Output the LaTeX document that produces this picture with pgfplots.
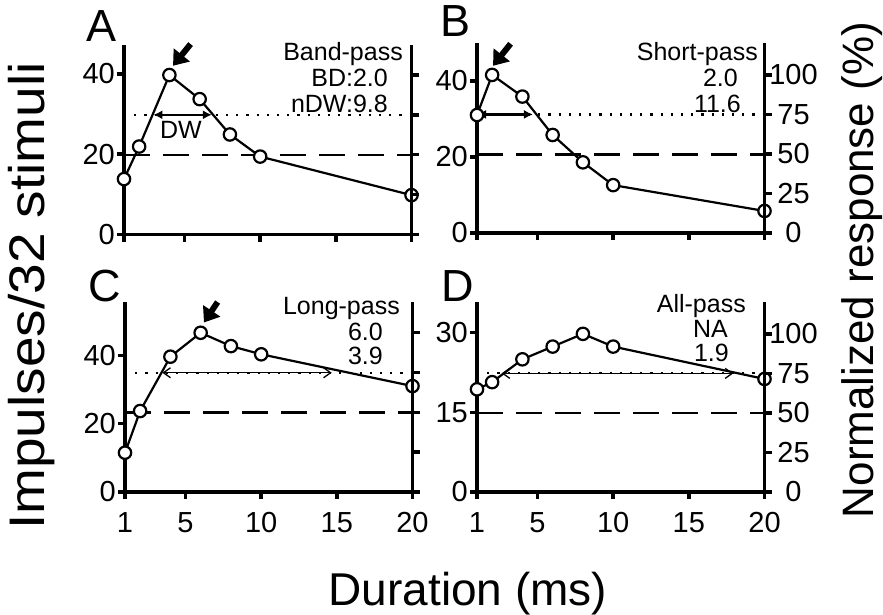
\documentclass[border=0pt]{standalone}
\usepackage{fontspec}
\setmainfont{Liberation Sans}
\usepackage{graphicx}
\usepackage{pgfplots}
\pgfplotsset{compat=1.18}
\usetikzlibrary{arrows.meta}
\newcommand\fs[1]{\fontsize{#1}{#1}\selectfont}
\tikzset{
  bigarrow/.style={line width=6pt, -{Triangle[length=14pt, width=20pt]}},
  dwthick/.style={line width=2.5pt, {Latex[length=9pt,width=9pt]}-{Latex[length=9pt,width=9pt]}},
  dwthin/.style={line width=1.3pt, {Straight Barb[length=7pt,width=10pt]}-{Straight Barb[length=7pt,width=10pt]}},
  dline/.style={line width=2.5pt, dash pattern=on 26pt off 13pt},
  oline/.style={line width=2.2pt, dash pattern=on 2.2pt off 8pt},
}
\pgfplotsset{
  /pgf/number format/assume math mode=true,
  panel/.style={
    scale only axis, width=287.5pt, height=190pt,
    xmin=1, xmax=20, ymin=0,
    anchor=south west, clip=false,
    axis line style={line width=3.4pt, -},
    tick style={line width=3.4pt, black},
    major tick length=7pt, tick align=outside,
    ticklabel style={font=\fs{29}, inner sep=2pt},
    xtick={1,5,10,15,20},
  },
  leftax/.style={panel, axis x line*=bottom, axis y line*=left},
  rightax/.style={panel, axis x line=none, axis y line*=right, ytick={0,25,50,75,100}},
  data/.style={line width=2.2pt, mark=*, mark size=6.2pt, mark options={fill=white, line width=2.2pt, solid}},
}
\begin{document}
\begin{tikzpicture}[x=1pt,y=1pt]
\path[use as bounding box] (0,0) rectangle (883,-614);

% ---------------- Panel A ----------------
\begin{axis}[leftax, at={(124pt,-234.5pt)}, ymax=47.3, ytick={0,20,40}, xticklabels={}]
\addplot[dline] coordinates {(1,19.85) (20,19.85)};
\addplot[oline] coordinates {(1,29.8) (20,29.8)};
\draw[dwthick] (axis cs:2.94,29.8) -- (axis cs:6.81,29.8);
\addplot[data] coordinates {(1,13.8) (2,21.9) (4,39.7) (6,33.7) (8,24.9) (10,19.4) (20,9.8)};
\draw[bigarrow] (axis cs:5.4,47.4) -- (axis cs:4.24,42.0);
\end{axis}
\begin{axis}[rightax, at={(124pt,-234.5pt)}, ymax=119.1, yticklabels={}]
\end{axis}

% ---------------- Panel B ----------------
\begin{axis}[leftax, at={(477pt,-233pt)}, ymax=50, ytick={0,20,40}, xticklabels={}]
\addplot[dline] coordinates {(1,20.7) (20,20.7)};
\addplot[oline] coordinates {(1,31.2) (20,31.2)};
\draw[dwthick] (axis cs:1,31.2) -- (axis cs:4.7,31.2);
\addplot[data] coordinates {(1,31.05) (2,41.6) (4,35.9) (6,25.8) (8,18.6) (10,12.6) (20,5.8)};
\draw[bigarrow] (axis cs:3.22,49.8) -- (axis cs:2.06,44.0);
\end{axis}
\begin{axis}[rightax, at={(477pt,-233pt)}, ymax=120.2, yticklabel style={anchor=center, xshift=22pt}]
\end{axis}

% ---------------- Panel C ----------------
\begin{axis}[leftax, at={(125pt,-492pt)}, ymax=55.6, ytick={0,20,40}, xticklabel style={yshift=-11pt}]
\addplot[dline] coordinates {(1,23.2) (20,23.2)};
\addplot[oline] coordinates {(1,34.9) (20,34.9)};
\draw[dwthin] (axis cs:3.47,34.9) -- (axis cs:14.66,34.9);
\addplot[data] coordinates {(1,11.5) (2,23.7) (4,39.6) (6,46.6) (8,42.7) (10,40.3) (20,31.0)};
\draw[bigarrow] (axis cs:7.12,55.6) -- (axis cs:6.22,49.6);
\end{axis}
\begin{axis}[rightax, at={(125pt,-492pt)}, ymax=119.3, yticklabels={}]
\end{axis}

% ---------------- Panel D ----------------
\begin{axis}[leftax, at={(477pt,-492pt)}, ymax=35.8, ytick={0,15,30}, xticklabel style={yshift=-11pt}]
\addplot[dline] coordinates {(1,14.9) (20,14.9)};
\addplot[oline] coordinates {(1,22.35) (20,22.35)};
\draw[dwthin] (axis cs:2.63,22.35) -- (axis cs:17.94,22.35);
\addplot[data] coordinates {(1,19.35) (2,20.7) (4,25.0) (6,27.4) (8,29.8) (10,27.4) (20,21.3)};
\end{axis}
\begin{axis}[rightax, at={(477pt,-492pt)}, ymax=120.1, yticklabel style={anchor=center, xshift=22pt}]
\end{axis}

% ---------------- Texts ----------------
\begin{scope}[every node/.style={inner sep=0pt}]
\node[anchor=base west, font=\fs{45}] at (86,-41) {A};
\node[anchor=base west, font=\fs{45}] at (440,-36) {B};
\node[anchor=base west, font=\fs{45}] at (88,-301.7) {C};
\node[anchor=base west, font=\fs{45}] at (441,-301.7) {D};

\node[anchor=base east, font=\fs{25}] at (403,-60) {Band-pass};
\node[anchor=base east, font=\fs{25}] at (388,-86) {BD:2.0};
\node[anchor=base east, font=\fs{25}] at (388,-112) {nDW:9.8};
\node[font=\fs{25}] at (181,-130) {DW};

\node[anchor=base east, font=\fs{25}] at (758,-60) {Short-pass};
\node[anchor=base east, font=\fs{25}] at (738,-86) {2.0};
\node[anchor=base east, font=\fs{25}] at (741,-112) {11.6};

\node[anchor=base east, font=\fs{25}] at (400,-314) {Long-pass};
\node[anchor=base east, font=\fs{25}] at (383,-340) {6.0};
\node[anchor=base east, font=\fs{25}] at (383,-364) {3.9};

\node[anchor=base east, font=\fs{25}] at (746,-312) {All-pass};
\node[anchor=base east, font=\fs{25}] at (728,-337) {NA};
\node[anchor=base east, font=\fs{25}] at (729,-361) {1.9};

\node[rotate=90, font=\fs{50}] at (32,-296) {\scalebox{1.1}[1]{Impulses/32 stimuli}};
\node[rotate=90, font=\fs{44}] at (862,-270) {Normalized response (\%)};
\node[anchor=base, font=\fs{46}] at (468,-605) {Duration (ms)};
\end{scope}
\end{tikzpicture}
\end{document}
